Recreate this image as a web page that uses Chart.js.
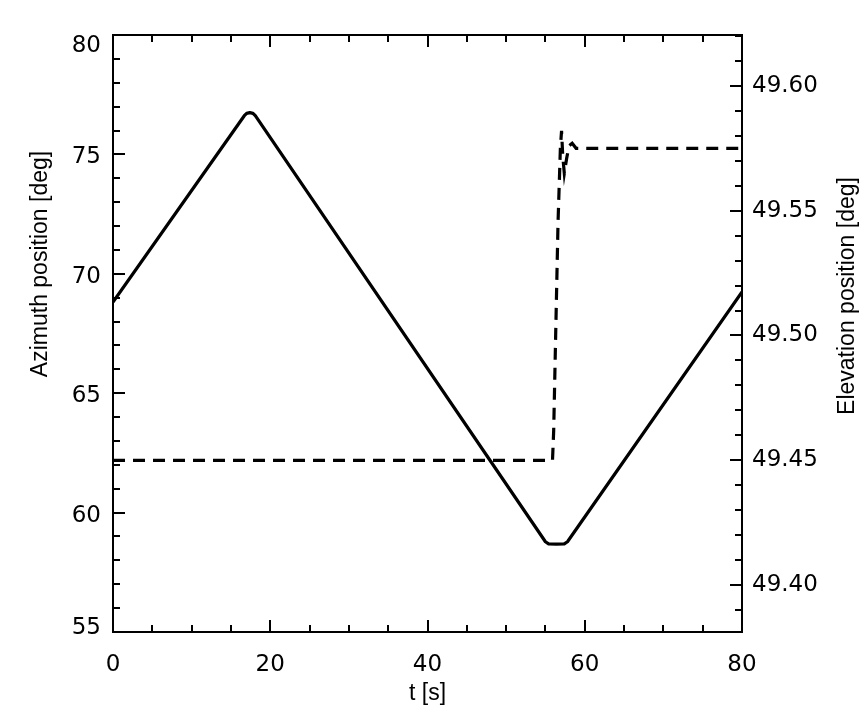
<!DOCTYPE html>
<html>
<head>
<meta charset="utf-8">
<script src="https://cdn.jsdelivr.net/npm/chart.js@4.4.1/dist/chart.umd.min.js"></script>
<style>
  html, body { margin: 0; padding: 0; background: #fff; }
  #wrap { width: 864px; height: 720px; position: relative; }
</style>
</head>
<body>
<div id="wrap"><canvas id="c" width="864" height="720"></canvas></div>
<script>
// ---- data ----
const azimuthTime  = [0, 16.7, 17.0, 17.4, 17.8, 18.1, 55.0, 55.4, 56.4, 57.4, 57.8, 80];
const azimuthValue = [68.82, 76.62, 76.72, 76.75, 76.72, 76.62, 58.78, 58.69, 58.68, 58.69, 58.78, 69.24];

const elevationTime  = [0, 55.9, 56.05, 56.3, 56.6, 56.9, 57.05, 57.2, 57.4, 57.7, 58.0, 58.4, 58.9, 80];
const elevationValue = [49.45, 49.45, 49.462, 49.50, 49.545, 49.575, 49.582, 49.572, 49.565, 49.571, 49.576, 49.577, 49.575, 49.575];

const xTickLabels = [0, 20, 40, 60, 80];
const azimuthTickLabels = [55, 60, 65, 70, 75, 80];
const elevationTickLabels = [49.40, 49.45, 49.50, 49.55, 49.60];

const xTitle = 't [s]';
const yTitle = 'Azimuth position [deg]';
const y2Title = 'Elevation position [deg]';

// ---- build ----
const azData = azimuthTime.map((t, i) => ({ x: t, y: azimuthValue[i] }));
const elData = elevationTime.map((t, i) => ({ x: t, y: elevationValue[i] }));

const TICKFONT = 'DejaVu Sans';
const TITLEFONT = 'Liberation Sans';

const framePlugin = {
  id: 'frame',
  afterDraw(chart) {
    const ctx = chart.ctx;
    const a = chart.chartArea;
    const sx = chart.scales.x, sy = chart.scales.y, sy2 = chart.scales.y2;
    ctx.save();
    ctx.strokeStyle = '#000';
    ctx.lineWidth = 2;
    ctx.strokeRect(a.left, a.top, a.right - a.left, a.bottom - a.top);
    const MAJ = 12, MIN = 7;
    ctx.beginPath();
    for (let v = 0; v <= 80; v += 5) {
      const px = Math.round(sx.getPixelForValue(v));
      const len = (v % 20 === 0) ? MAJ : MIN;
      ctx.moveTo(px, a.bottom); ctx.lineTo(px, a.bottom - len);
      ctx.moveTo(px, a.top); ctx.lineTo(px, a.top + len);
    }
    for (let v = 55; v <= 80; v += 1) {
      const py = Math.round(sy.getPixelForValue(v));
      const len = (v % 5 === 0) ? MAJ : MIN;
      ctx.moveTo(a.left, py); ctx.lineTo(a.left + len, py);
    }
    for (let k = 4939; k <= 4962; k += 1) {
      const py = Math.round(sy2.getPixelForValue(k / 100));
      const len = (k % 5 === 0) ? MAJ : MIN;
      ctx.moveTo(a.right, py); ctx.lineTo(a.right - len, py);
    }
    ctx.stroke();

    ctx.fillStyle = '#000';
    // left tick labels (kept inside the frame at the ends, as in the reference)
    ctx.font = '23px "' + TICKFONT + '"';
    ctx.textAlign = 'right';
    ctx.textBaseline = 'middle';
    azimuthTickLabels.forEach(v => {
      let py = sy.getPixelForValue(v) + 3;
      if (v === 80) py = sy.getPixelForValue(v) + 11;
      if (v === 55) py = sy.getPixelForValue(v) - 4;
      ctx.fillText(String(v), a.left - 12, py);
    });

    // axis titles
    ctx.font = '23px "' + TITLEFONT + '"';
    ctx.textAlign = 'center';
    ctx.textBaseline = 'alphabetic';
    ctx.fillText(xTitle, (a.left + a.right) / 2, 700);
    ctx.save();
    ctx.translate(47, 264);
    ctx.rotate(-Math.PI / 2);
    ctx.fillText(yTitle, 0, 0);
    ctx.restore();
    ctx.save();
    ctx.translate(854, 296);
    ctx.rotate(-Math.PI / 2);
    ctx.fillText(y2Title, 0, 0);
    ctx.restore();
    ctx.restore();
  }
};

new Chart(document.getElementById('c'), {
  type: 'line',
  data: {
    datasets: [
      {
        label: 'Azimuth',
        data: azData,
        yAxisID: 'y',
        borderColor: '#000',
        borderWidth: 3.2,
        pointRadius: 0,
        tension: 0,
        borderJoinStyle: 'round',
        fill: false
      },
      {
        label: 'Elevation',
        data: elData,
        yAxisID: 'y2',
        borderColor: '#000',
        borderWidth: 3.2,
        borderDash: [12, 8],
        pointRadius: 0,
        tension: 0,
        fill: false
      }
    ]
  },
  options: {
    responsive: false,
    animation: false,
    devicePixelRatio: 1,
    layout: { padding: { top: 35, left: 0, right: 0, bottom: 0 } },
    plugins: { legend: { display: false }, tooltip: { enabled: false } },
    scales: {
      x: {
        type: 'linear',
        position: 'bottom',
        min: 0, max: 80,
        afterBuildTicks: s => { s.ticks = xTickLabels.map(v => ({ value: v })); },
        ticks: { color: '#000', font: { family: TICKFONT, size: 23 }, padding: 19, maxRotation: 0, autoSkip: false },
        grid: { display: false, drawTicks: false },
        border: { display: false },
        afterFit: s => { s.height = 88; }
      },
      y: {
        type: 'linear',
        position: 'left',
        min: 55, max: 80,
        afterBuildTicks: s => { s.ticks = azimuthTickLabels.map(v => ({ value: v })); },
        ticks: { display: false },
        grid: { display: false, drawTicks: false },
        border: { display: false },
        afterFit: s => { s.width = 113; }
      },
      y2: {
        type: 'linear',
        position: 'right',
        min: 49.3812, max: 49.6204,
        afterBuildTicks: s => { s.ticks = elevationTickLabels.map(v => ({ value: v })); },
        ticks: { color: '#000', font: { family: TICKFONT, size: 23 }, padding: 10, autoSkip: false,
                 callback: v => Number(v).toFixed(2) },
        grid: { display: false, drawTicks: false },
        border: { display: false },
        afterFit: s => { s.width = 122; }
      }
    }
  },
  plugins: [framePlugin]
});
</script>
</body>
</html>
